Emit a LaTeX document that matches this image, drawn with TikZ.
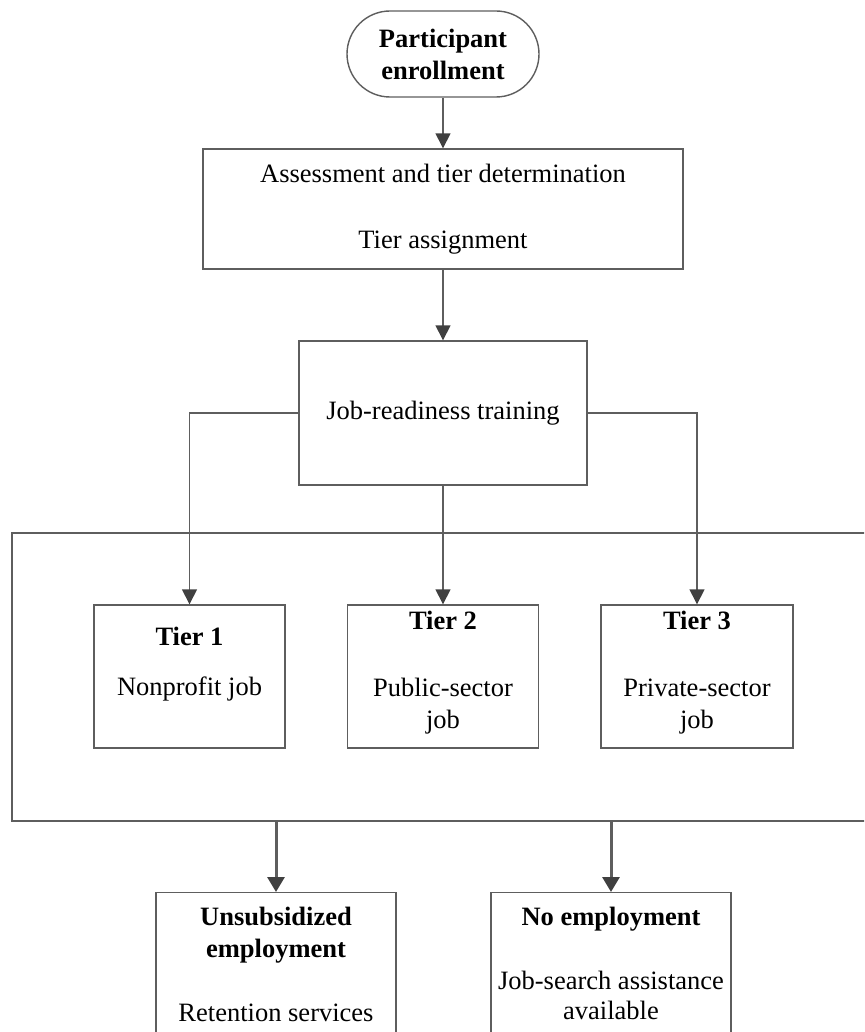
\documentclass[tikz,border=0pt]{standalone}
\usepackage{fontspec}
\setmainfont{Liberation Serif}
\usetikzlibrary{arrows.meta}
\definecolor{linec}{HTML}{5E5E5E}
\definecolor{tipc}{HTML}{404040}
\begin{document}
\begin{tikzpicture}[x=1pt,y=-1pt,
  box/.style={draw=linec, line width=1.4pt, rectangle, inner sep=0pt, fill=none},
  term/.style={box, rounded corners=43pt},
  txt/.style={font=\fontsize{26.5}{32}\selectfont, align=center},
  lbl/.style={inner sep=0pt, anchor=base, font=\fontsize{26.5}{32}\selectfont},
  conn/.style={draw=linec, line width=1.5pt, -{Triangle[length=15pt,width=15pt,color=tipc,fill=tipc]}},
  bigconn/.style={conn, line width=3pt, -{Triangle[length=15pt,width=17pt,color=tipc,fill=tipc]}},
]
\useasboundingbox (0,0) rectangle (864,1032);
\clip (0,0) rectangle (864,1032);

% top
\node[term, txt, minimum width=192pt, minimum height=86pt] (start) at (443,54)
  {\textbf{Participant}\\\textbf{enrollment}};
\node[box, txt, minimum width=480pt, minimum height=120pt] (assess) at (443,209)
  {Assessment and tier determination\\[34pt]Tier assignment};
\node[box, txt, minimum width=288pt, minimum height=144pt] (job) at (443,413)
  {Job-readiness training};

% container
\node[box, minimum width=880pt, minimum height=288pt] (grp) at (452,677) {};

% tiers
\node[box, minimum width=191pt, minimum height=143pt] (t1) at (189.5,676.5) {};
\node[box, minimum width=191pt, minimum height=143pt] (t2) at (443,676.5) {};
\node[box, minimum width=192pt, minimum height=143pt] (t3) at (697,676.5) {};

\node[lbl] (t1a) at (189.5,645) {\textbf{Tier 1}};
\node[lbl] (t1b) at (189.5,695) {Nonprofit job};
\node[lbl] (t2a) at (443,629) {\textbf{Tier 2}};
\node[lbl] (t2b) at (443,696) {Public-sector};
\node[lbl] (t2c) at (443,728) {job};
\node[lbl] (t3a) at (697,629) {\textbf{Tier 3}};
\node[lbl] (t3b) at (697,696) {Private-sector};
\node[lbl] (t3c) at (697,728) {job};

% outcomes
\node[box, anchor=north, minimum width=240pt, minimum height=200pt] (u) at (276,892) {};
\node[box, anchor=north, minimum width=240pt, minimum height=200pt] (n) at (611,892) {};

\node[lbl] (ua) at (276,925) {\textbf{Unsubsidized}};
\node[lbl] (ub) at (276,957) {\textbf{employment}};
\node[lbl] (uc) at (276,1021) {Retention services};
\node[lbl] (na) at (611,925) {\textbf{No employment}};
\node[lbl] (nb) at (611,989) {Job-search assistance};
\node[lbl] (nc) at (611,1019) {available};

% connectors
\draw[conn] (start.south) -- (assess.north);
\draw[conn] (assess.south) -- (job.north);
\draw[conn] (job.west) -| (t1.north);
\draw[conn] (job.south) -- (t2.north);
\draw[conn] (job.east) -| (t3.north);
\draw[bigconn] (grp.south -| u.north) -- (u.north);
\draw[bigconn] (grp.south -| n.north) -- (n.north);
\end{tikzpicture}
\end{document}
